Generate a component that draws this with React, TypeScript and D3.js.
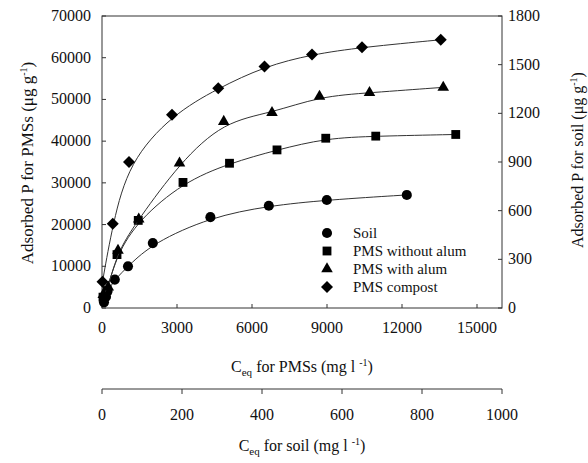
import React from 'react';
import * as d3 from 'd3';

// soil: Ceq in mg/l (0-1000 axis), P in ug/g (right axis)
const soilCeq = [5, 10, 14, 32, 65, 127, 271, 417, 562, 762];
const soilP = [35, 70, 105, 175, 257, 400, 560, 630, 666, 697];

// PMSs: Ceq in mg/l (0-15000 axis), P in ug/g (left axis)
const noAlumCeq = [40, 200, 600, 1450, 3240, 5100, 7000, 8950, 10950, 14150];
const noAlumP = [2600, 4200, 12800, 21000, 30100, 34700, 37900, 40700, 41200, 41600];

const alumCeq = [50, 250, 640, 1470, 3100, 4870, 6800, 8700, 10700, 13650];
const alumP = [3200, 5000, 13800, 21300, 34700, 44700, 46800, 50700, 51600, 52900];

const compostCeq = [20, 430, 1080, 2800, 4650, 6500, 8400, 10400, 13550];
const compostP = [6300, 20200, 35000, 46300, 52700, 57900, 60800, 62500, 64300];

const leftTicks = [0, 10000, 20000, 30000, 40000, 50000, 60000, 70000];
const rightTicks = [0, 300, 600, 900, 1200, 1500, 1800];
const pmsTicks = [0, 3000, 6000, 9000, 12000, 15000];
const soilTicks = [0, 200, 400, 600, 800, 1000];

const legendNames = ['Soil', 'PMS without alum', 'PMS with alum', 'PMS compost'];

const font = '"Liberation Serif", "Times New Roman", serif';

const App = () => {
  const left = 102, right = 502, top = 16, bottom = 308;
  const axis2 = 389;

  const x = d3.scaleLinear().domain([0, 16000]).range([left, right]);
  const xSoil = d3.scaleLinear().domain([0, 1000]).range([left, right]);
  const y = d3.scaleLinear().domain([0, 70000]).range([bottom, top]);
  const ySoil = d3.scaleLinear().domain([0, 1800]).range([bottom, top]);

  // smooth fitted-looking curve through the points
  const line = d3.line<[number, number]>()
    .x(d => d[0]).y(d => d[1])
    .curve(d3.curveBasis);

  const sym = (type: d3.SymbolType, size: number) => d3.symbol().type(type).size(size)() as string;
  const circlePath = sym(d3.symbolCircle, 80);
  const squarePath = sym(d3.symbolSquare, 78);
  const trianglePath = sym(d3.symbolTriangle, 58);
  const diamondPath = sym(d3.symbolSquare, 72);

  const series = [
    { pts: soilCeq.map((c, i) => [xSoil(c), ySoil(soilP[i])] as [number, number]), path: circlePath, rot: 0 },
    { pts: noAlumCeq.map((c, i) => [x(c), y(noAlumP[i])] as [number, number]), path: squarePath, rot: 0 },
    { pts: alumCeq.map((c, i) => [x(c), y(alumP[i])] as [number, number]), path: trianglePath, rot: 0 },
    { pts: compostCeq.map((c, i) => [x(c), y(compostP[i])] as [number, number]), path: diamondPath, rot: 45 },
  ];

  return (
    <svg width={588} height={463} style={{ display: 'block', position: 'absolute', left: 0, top: 0, background: '#fff' }}
      fontFamily={font} fill="#111">
      <rect x={left} y={top} width={right - left} height={bottom - top} fill="none" stroke="#333" strokeWidth={1} />

      {/* left axis */}
      {leftTicks.map(t => (
        <g key={'l' + t}>
          <line x1={left} x2={left + 4} y1={y(t)} y2={y(t)} stroke="#333" />
          <text x={left - 11} y={y(t) + 5} textAnchor="end" fontSize={16}>{t}</text>
        </g>
      ))}
      {/* right axis */}
      {rightTicks.map(t => (
        <g key={'r' + t}>
          <line x1={right - 4} x2={right} y1={ySoil(t)} y2={ySoil(t)} stroke="#333" />
          <text x={right + 6} y={ySoil(t) + 5} textAnchor="start" fontSize={16}>{t}</text>
        </g>
      ))}
      {/* bottom axis PMS */}
      {pmsTicks.map(t => (
        <g key={'b' + t}>
          <line x1={x(t)} x2={x(t)} y1={bottom} y2={bottom - 4} stroke="#333" />
          <text x={x(t)} y={333} textAnchor="middle" fontSize={16}>{t}</text>
        </g>
      ))}
      {/* second axis soil */}
      <line x1={xSoil(0)} x2={xSoil(1000)} y1={axis2} y2={axis2} stroke="#333" />
      {soilTicks.map(t => (
        <g key={'s' + t}>
          <line x1={xSoil(t)} x2={xSoil(t)} y1={axis2} y2={axis2 + 5} stroke="#333" />
          <text x={xSoil(t)} y={420} textAnchor="middle" fontSize={16}>{t}</text>
        </g>
      ))}

      {/* axis titles */}
      <text x={(left + right) / 2} y={372} textAnchor="middle" fontSize={16}>
        C<tspan fontSize={11} dy={4}>eq</tspan><tspan dy={-4}>{'  for PMSs (mg l '}</tspan>
        <tspan fontSize={10} dy={-6}>-1</tspan><tspan dy={6}>)</tspan>
      </text>
      <text x={(left + right) / 2} y={451} textAnchor="middle" fontSize={16}>
        C<tspan fontSize={11} dy={4}>eq</tspan><tspan dy={-4}>{' for soil (mg  l '}</tspan>
        <tspan fontSize={10} dy={-6}>-1</tspan><tspan dy={6}>)</tspan>
      </text>
      <text transform="translate(33,163) rotate(-90)" textAnchor="middle" fontSize={17}>
        {'Adsorbed  P for PMSs (μg g'}<tspan fontSize={10} dy={-6}>-1</tspan><tspan dy={6}>)</tspan>
      </text>
      <text transform="translate(583,160) rotate(-90)" textAnchor="middle" fontSize={16}>
        {'Adsorbed P for soil (μg g'}<tspan fontSize={10} dy={-6}>-1</tspan><tspan dy={6}>)</tspan>
      </text>

      {/* curves and markers */}
      {series.map((s, i) => (
        <g key={'c' + i}>
          <path d={line(s.pts) as string} fill="none" stroke="#333" strokeWidth={1} />
          {s.pts.map((p, j) => (
            <path key={j} d={s.path} transform={`translate(${p[0]},${p[1]}) rotate(${s.rot})`} fill="#000" />
          ))}
        </g>
      ))}

      {/* legend */}
      {legendNames.map((n, i) => (
        <g key={'lg' + i} transform={`translate(327,${233 + i * 18})`}>
          <path d={series[i].path} transform={`rotate(${series[i].rot})`} fill="#000" />
          <text x={26} y={5} fontSize={15}>{n}</text>
        </g>
      ))}
    </svg>
  );
};

export default App;
